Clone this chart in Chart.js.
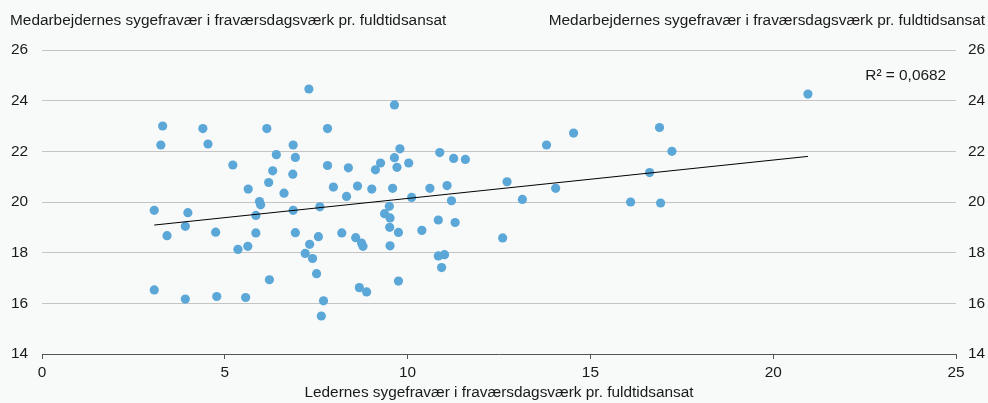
<!DOCTYPE html>
<html>
<head>
<meta charset="utf-8">
<script src="https://cdn.jsdelivr.net/npm/chart.js@4.4.0/dist/chart.umd.min.js"></script>
<style>
  html, body { margin: 0; padding: 0; background: #f8f9f9; }
  #wrap { width: 988px; height: 403px; position: relative; }
</style>
</head>
<body>
<div id="wrap"><canvas id="myChart"></canvas></div>
<script>
// sygefravær: ledere (x) mod medarbejdere (y), én prik pr. enhed
const lederX = [
  3.30, 4.40, 6.15, 7.81, 3.25, 4.54, 6.87, 6.41, 6.93, 5.22,
  7.81, 8.38, 6.31, 6.86, 6.20, 5.64, 6.62, 7.97, 8.33, 5.95,
  5.98, 3.07, 3.99, 6.87, 7.60, 5.85, 3.42, 3.92, 4.75, 5.85,
  6.93, 7.56, 8.20, 7.32, 7.20, 7.40, 5.63, 5.36, 7.51, 6.22,
  3.07, 3.92, 4.78, 5.57, 7.70, 7.64, 7.30, 9.64, 9.79, 10.88,
  11.26, 11.58, 9.26, 9.64, 9.12, 9.71, 10.03, 8.63, 9.02, 9.59,
  10.61, 11.08, 10.11, 11.20, 9.50, 9.37, 9.52, 9.51, 9.75, 10.39,
  10.84, 11.30, 8.58, 8.74, 8.78, 9.52, 10.84, 11.01, 10.93, 9.75,
  8.68, 8.88, 16.89, 14.54, 13.80, 17.23, 12.72, 16.62, 14.05, 13.14,
  16.10, 16.92, 12.60, 20.95
];
const medarbY = [
  23.00, 22.90, 22.90, 22.90, 22.25, 22.29, 22.25, 21.87, 21.76, 21.46,
  21.44, 21.35, 21.23, 21.10, 20.77, 20.51, 20.35, 20.59, 20.22, 20.02,
  19.89, 19.67, 19.58, 19.67, 19.81, 19.47, 18.67, 19.04, 18.81, 18.78,
  18.79, 18.63, 18.78, 18.33, 17.97, 17.77, 18.25, 18.13, 17.17, 16.93,
  16.53, 16.17, 16.27, 16.23, 16.10, 15.50, 24.46, 23.83, 22.10, 21.95,
  21.72, 21.68, 21.54, 21.75, 21.27, 21.37, 21.54, 20.63, 20.51, 20.54,
  20.54, 20.65, 20.18, 20.05, 19.83, 19.54, 19.37, 19.00, 18.80, 18.88,
  19.29, 19.19, 18.59, 18.38, 18.25, 18.27, 17.87, 17.92, 17.41, 16.88,
  16.62, 16.45, 22.94, 22.72, 22.25, 22.00, 20.80, 21.16, 20.54, 20.10,
  20.00, 19.96, 18.58, 24.26
];

// lineær trendlinje, fra mindste til største x
const trendX = [3.07, 20.95];
const trendY = [19.09, 21.80];

const xTicks = [0, 5, 10, 15, 20, 25];
const yTicks = [14, 16, 18, 20, 22, 24, 26];

const yTitle = 'Medarbejdernes sygefravær i fraværsdagsværk pr. fuldtidsansat';
const xTitle = 'Ledernes sygefravær i fraværsdagsværk pr. fuldtidsansat';
const r2Text = 'R² = 0,0682';
const r2Pos = [24.73, 25.0];

const FONT = '"Liberation Sans", Arial, Helvetica, sans-serif';
const FSIZE = 15.4;
const TXT = '#1a1a1a';

const points = lederX.map((x, i) => ({ x: x, y: medarbY[i] }));
const trend = trendX.map((x, i) => ({ x: x, y: trendY[i] }));

// titler og R² tegnes direkte på canvas
const textPlugin = {
  id: 'texts',
  afterDraw(chart) {
    const ctx = chart.ctx;
    const area = chart.chartArea;
    ctx.save();
    ctx.font = FSIZE + 'px ' + FONT;
    ctx.fillStyle = TXT;
    ctx.textBaseline = 'middle';
    ctx.textAlign = 'left';
    ctx.fillText(yTitle, 10, 21);
    ctx.textAlign = 'right';
    ctx.fillText(yTitle, 985, 21);
    ctx.textAlign = 'center';
    ctx.fillText(xTitle, (area.left + area.right) / 2, 393);
    ctx.textAlign = 'right';
    ctx.fillText(r2Text, chart.scales.x.getPixelForValue(r2Pos[0]), chart.scales.y.getPixelForValue(r2Pos[1]));
    ctx.restore();
  }
};

const config = {
  type: 'scatter',
  data: {
    datasets: [
      {
        label: 'Enheder',
        data: points,
        backgroundColor: '#5ba7d8',
        borderWidth: 0,
        pointRadius: 4.6,
        pointHoverRadius: 4.6,
        order: 2
      },
      {
        type: 'line',
        label: 'Trend',
        data: trend,
        borderColor: '#000000',
        borderWidth: 1,
        pointRadius: 0,
        fill: false,
        order: 1
      }
    ]
  },
  options: {
    responsive: true,
    maintainAspectRatio: false,
    animation: false,
    layout: { padding: { top: 50, left: 0, right: 0, bottom: 0 } },
    plugins: {
      legend: { display: false },
      tooltip: { enabled: false }
    },
    scales: {
      x: {
        type: 'linear',
        position: 'bottom',
        min: 0,
        max: 25,
        afterBuildTicks: s => { s.ticks = xTicks.map(v => ({ value: v })); },
        afterFit: s => { s.height = 49; },
        border: { display: true, color: '#555555', width: 1 },
        grid: { drawOnChartArea: false, drawTicks: true, tickLength: 5, color: '#555555' },
        ticks: { padding: 5, color: TXT, font: { family: FONT, size: FSIZE } }
      },
      y: {
        type: 'linear',
        position: 'left',
        min: 14,
        max: 26,
        afterBuildTicks: s => { s.ticks = yTicks.map(v => ({ value: v })); },
        afterFit: s => { s.width = 42; },
        border: { display: false },
        grid: {
          drawTicks: false,
          color: ctx => (ctx.tick && ctx.tick.value === 14 ? 'rgba(0,0,0,0)' : '#c4c4c4')
        },
        ticks: { padding: 14, color: TXT, font: { family: FONT, size: FSIZE } }
      },
      y2: {
        type: 'linear',
        position: 'right',
        min: 14,
        max: 26,
        afterBuildTicks: s => { s.ticks = yTicks.map(v => ({ value: v })); },
        afterFit: s => { s.width = 32; },
        border: { display: false },
        grid: { display: false, drawTicks: false },
        ticks: { padding: 12, color: TXT, font: { family: FONT, size: FSIZE } }
      }
    }
  },
  plugins: [textPlugin]
};

const myChart = new Chart(document.getElementById('myChart'), config);
</script>
</body>
</html>
